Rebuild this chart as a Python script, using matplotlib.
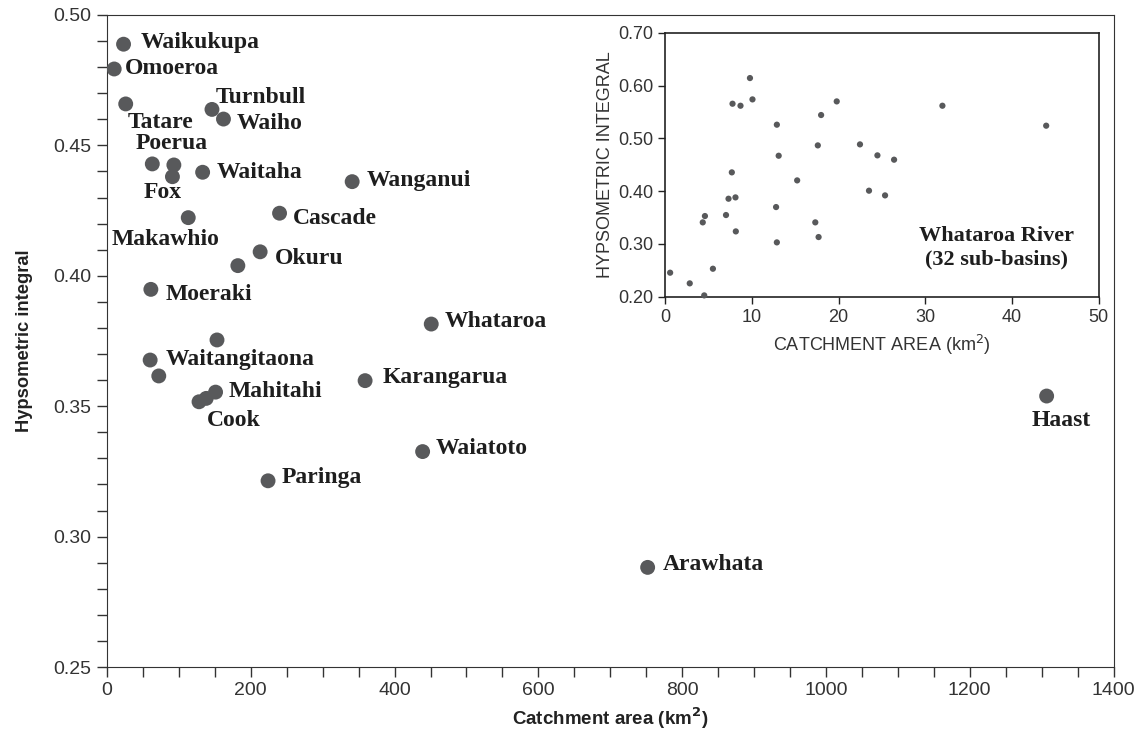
import matplotlib
matplotlib.use("Agg")
import matplotlib.pyplot as plt
from matplotlib.ticker import MultipleLocator, FormatStrFormatter

# West Coast catchments (main plot)
rivers = ["Waikukupa", "Omoeroa", "Tatare", "Turnbull", "Waiho", "Poerua", "",
          "Fox", "Waitaha", "Wanganui", "Makawhio", "Cascade", "Okuru", "",
          "Moeraki", "", "Waitangitaona", "", "Mahitahi", "Cook", "",
          "Karangarua", "Whataroa", "Waiatoto", "Paringa", "Arawhata", "Haast"]
area_km2 = [23, 10, 26, 146, 162, 63, 93,
            91, 133, 341, 113, 240, 213, 182,
            61, 153, 60, 72, 151, 128, 138,
            359, 451, 439, 224, 752, 1307]
hyps_int = [0.4888, 0.4793, 0.4659, 0.4638, 0.4601, 0.4429, 0.4425,
            0.4380, 0.4397, 0.4361, 0.4223, 0.4240, 0.4092, 0.4039,
            0.3948, 0.3754, 0.3677, 0.3616, 0.3554, 0.3517, 0.3530,
            0.3598, 0.3815, 0.3326, 0.3214, 0.2882, 0.3539]

# label placement: (dx px, dy px, ha) relative to point
label_pos = [(17, 2, "left"), (11, 0, "left"), (2, -19, "left"), (4, 12, "left"),
             (13, -4, "left"), (19, 20, "center"), (0, 0, "left"),
             (-10, -16, "center"), (14, 0, "left"), (15, 1, "left"),
             (-23, -22, "center"), (13, -5, "left"), (15, -7, "left"), (0, 0, "left"),
             (15, -5, "left"), (0, 0, "left"), (16, 1, "left"), (0, 0, "left"),
             (13, 1, "left"), (8, -19, "left"), (0, 0, "left"),
             (18, 3, "left"), (13, 3, "left"), (13, 3, "left"), (14, 3, "left"),
             (15, 3, "left"), (15, -24, "center")]

# Whataroa River sub-basins (inset)
sub_area = [0.59, 2.85, 4.52, 5.52, 4.35, 4.60, 7.03, 7.32, 8.12, 8.16, 7.70,
            7.78, 8.70, 9.79, 10.08, 12.80, 12.89, 12.89, 13.10, 15.23, 17.32,
            17.70, 17.61, 17.99, 19.79, 22.47, 23.51, 24.48, 25.36, 26.40,
            31.97, 43.93]
sub_hi = [0.2455, 0.2253, 0.2025, 0.2530, 0.3408, 0.3528, 0.3547, 0.3856,
          0.3881, 0.3237, 0.4355, 0.5655, 0.5617, 0.6141, 0.5737, 0.3698,
          0.3029, 0.5258, 0.4670, 0.4203, 0.3408, 0.3130, 0.4866, 0.5441,
          0.5699, 0.4885, 0.4008, 0.4677, 0.3919, 0.4595, 0.5617, 0.5239]

DOT = "#58595b"
SANS = ["Liberation Sans", "DejaVu Sans"]
SERIF = ["Liberation Serif", "DejaVu Serif"]
plt.rcParams["font.family"] = SANS

DPI = 100
fig = plt.figure(figsize=(11.36, 7.35), dpi=DPI)
ax = fig.add_axes([0.0942, 0.0925, 0.886, 0.8871])

ax.scatter(area_km2, hyps_int, s=115, color=DOT, edgecolors="none", zorder=3)
for name, x, y, (dx, dy, ha) in zip(rivers, area_km2, hyps_int, label_pos):
    if not name:
        continue
    ax.annotate(name, (x, y), xytext=(dx * 72 / DPI, dy * 72 / DPI),
                textcoords="offset points", ha=ha, va="center",
                fontsize=17, fontweight="bold", family=SERIF, color="#1e1e1e")

ax.set_xlim(0, 1400)
ax.set_ylim(0.25, 0.50)
ax.xaxis.set_major_locator(MultipleLocator(200))
ax.xaxis.set_minor_locator(MultipleLocator(50))
ax.yaxis.set_major_locator(MultipleLocator(0.05))
ax.yaxis.set_minor_locator(MultipleLocator(0.01))
ax.yaxis.set_major_formatter(FormatStrFormatter("%.2f"))
ax.tick_params(which="both", direction="out", length=7, width=1, color="#333333")
ax.tick_params(which="major", labelsize=14, colors="#333333")
ax.tick_params(axis="y", which="major", pad=4)
for sp in ax.spines.values():
    sp.set_color("#333333")
ax.set_xlabel("Catchment area (km$^\\mathbf{2}$)", fontsize=13.5, fontweight="bold",
              color="#222222", labelpad=5)
ax.set_ylabel("Hypsometric integral", fontsize=13.2, fontweight="bold",
              color="#222222", labelpad=15)

# inset
ins = fig.add_axes([0.5854, 0.5963, 0.3819, 0.3592])
ins.scatter(sub_area, sub_hi, s=20, color=DOT, edgecolors="none", zorder=3,
            clip_on=False)
ins.set_xlim(0, 50)
ins.set_ylim(0.20, 0.70)
ins.xaxis.set_major_locator(MultipleLocator(10))
ins.yaxis.set_major_locator(MultipleLocator(0.10))
ins.yaxis.set_major_formatter(FormatStrFormatter("%.2f"))
ins.tick_params(direction="out", length=5, width=1, labelsize=13,
                color="#222222", labelcolor="#333333")
for sp in ins.spines.values():
    sp.set_color("#222222")
    sp.set_linewidth(1.2)
ins.set_xlabel("CATCHMENT AREA (km$^2$)", fontsize=13, color="#333333", labelpad=5)
ins.set_ylabel("HYPSOMETRIC INTEGRAL", fontsize=13, color="#333333", labelpad=3)
ins.text(38.2, 0.293, "Whataroa River\n(32 sub-basins)", ha="center", va="center",
         fontsize=16, fontweight="bold", family=SERIF, color="#1e1e1e",
         linespacing=1.2)

fig.savefig("out.png", dpi=DPI)
